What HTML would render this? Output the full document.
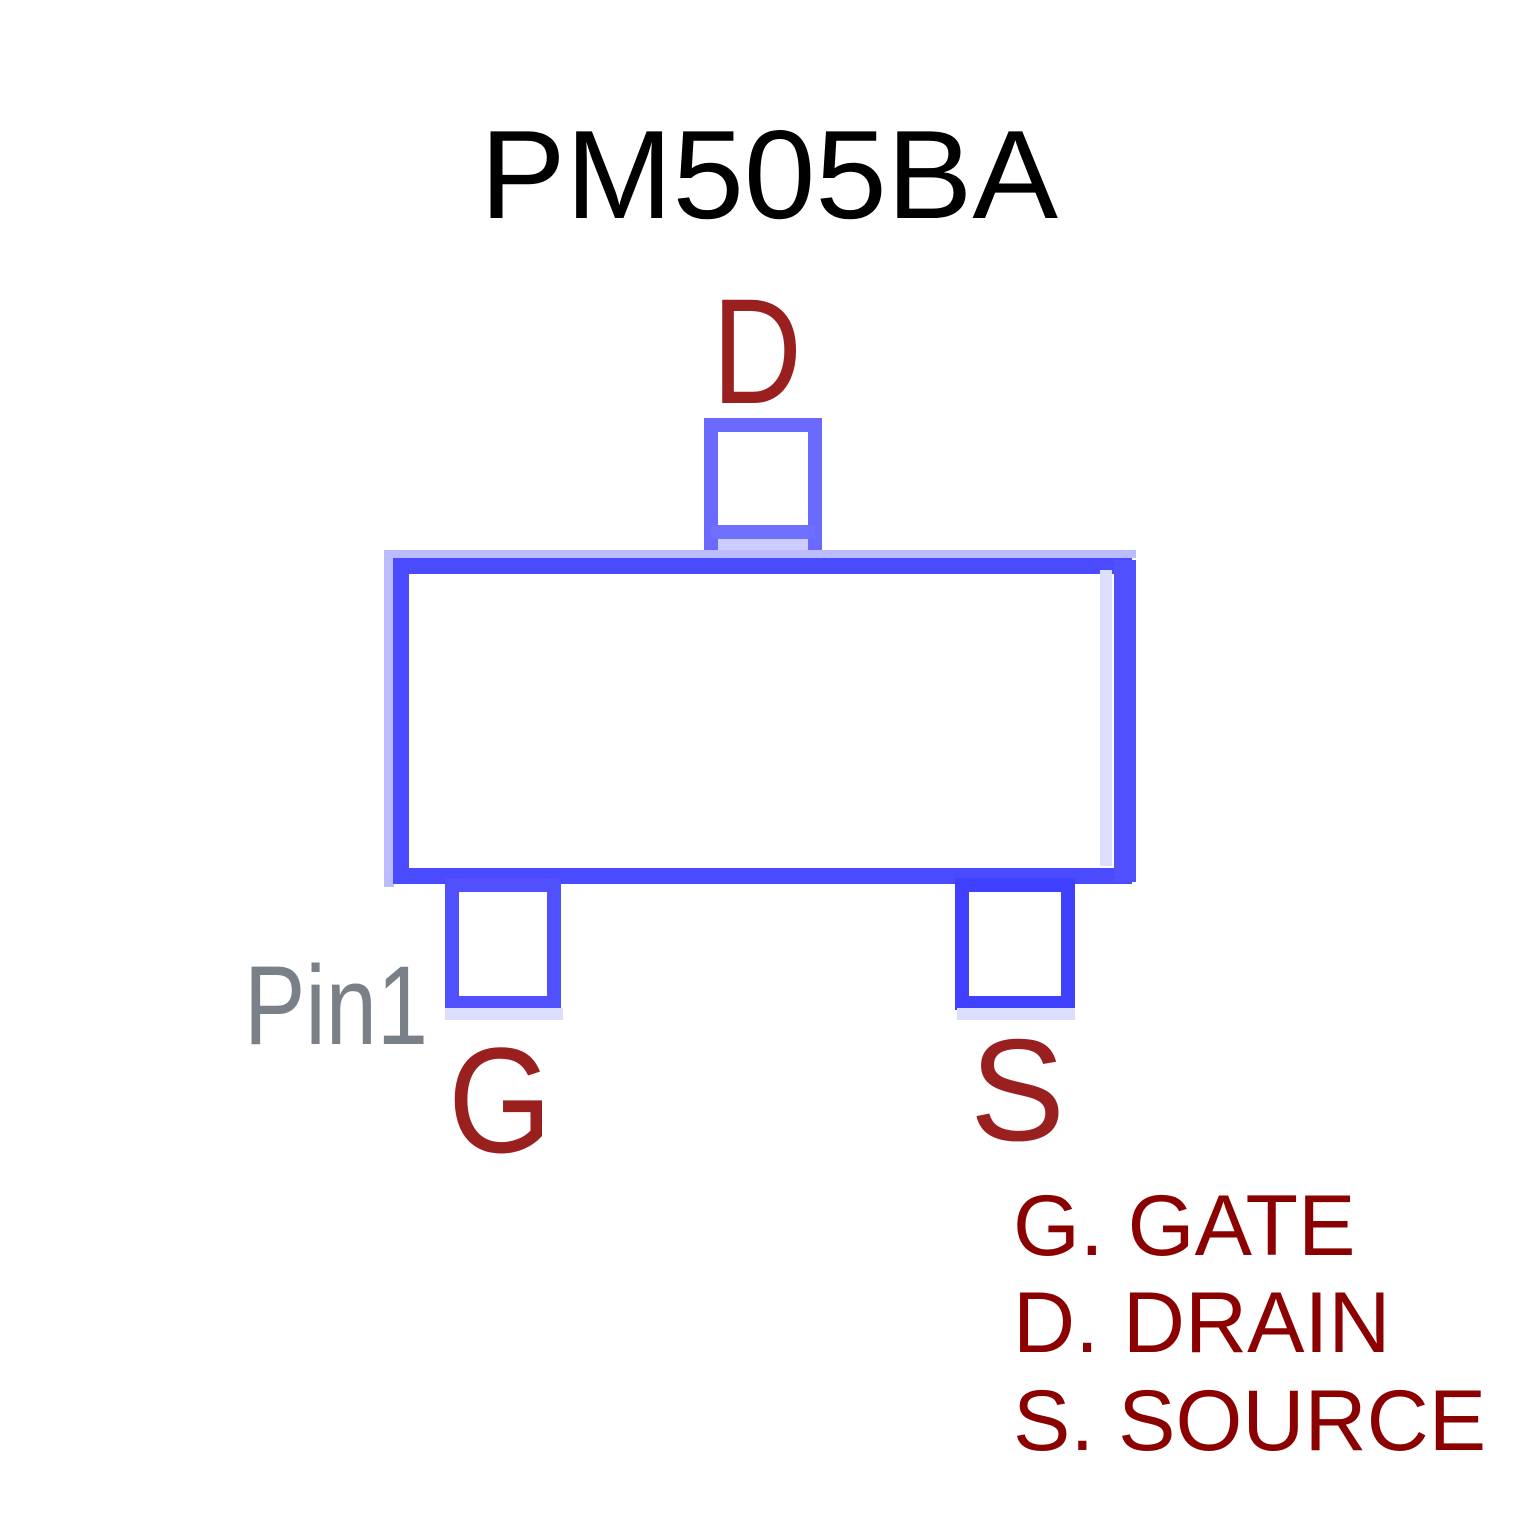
<!DOCTYPE html>
<html><head><meta charset="utf-8"><style>
html,body{margin:0;padding:0;background:#fff}
svg{display:block}
</style></head><body>
<svg width="1535" height="1535" viewBox="0 0 1535 1535" xmlns="http://www.w3.org/2000/svg">
<rect width="1535" height="1535" fill="#fff"/>
<text x="480" y="218" font-family="Liberation Sans, sans-serif" font-size="126" fill="#000" textLength="578" lengthAdjust="spacingAndGlyphs">PM505BA</text>
<!-- drain pad -->
<rect x="711" y="425" width="104" height="140" fill="none" stroke="#6a6aff" stroke-width="14"/>
<rect x="718" y="538" width="90" height="25" fill="#ccccff"/>
<rect x="711" y="525" width="104" height="14" fill="#7070ff"/>
<!-- body -->
<rect x="384" y="550" width="752" height="8" fill="#bbbbff"/>
<rect x="384" y="550" width="10" height="337" fill="#bbbbff"/>
<rect x="401" y="566" width="723" height="310" fill="none" stroke="#4a4aff" stroke-width="16"/>
<rect x="1114" y="560" width="22" height="322" fill="#5050ff"/>
<rect x="1100" y="570" width="12" height="296" fill="#ddddff"/>
<!-- gate pad -->
<rect x="452" y="885" width="102" height="118" fill="none" stroke="#5050ff" stroke-width="14"/>
<rect x="445" y="1008" width="118" height="12" fill="#ddddff"/>
<!-- source pad -->
<rect x="962" y="885" width="106" height="118" fill="none" stroke="#4040ff" stroke-width="14"/>
<rect x="957" y="1008" width="118" height="12" fill="#ddddff"/>
<g font-family="Liberation Sans, sans-serif" fill="#9a2020">
<text x="712" y="403" font-size="150" textLength="90" lengthAdjust="spacingAndGlyphs">D</text>
<text x="448" y="1152" font-size="150" textLength="104" lengthAdjust="spacingAndGlyphs">G</text>
<text x="970" y="1140" font-size="145" textLength="95" lengthAdjust="spacingAndGlyphs">S</text>
</g>
<text x="244" y="1044" font-family="Liberation Sans, sans-serif" font-size="112" fill="#7a8088" textLength="184" lengthAdjust="spacingAndGlyphs">Pin1</text>
<g font-family="Liberation Sans, sans-serif" font-size="86" fill="#8b0000">
<text x="1013" y="1255">G. GATE</text>
<text x="1013" y="1352">D. DRAIN</text>
<text x="1013" y="1450">S. SOURCE</text>
</g>
</svg>
</body></html>
